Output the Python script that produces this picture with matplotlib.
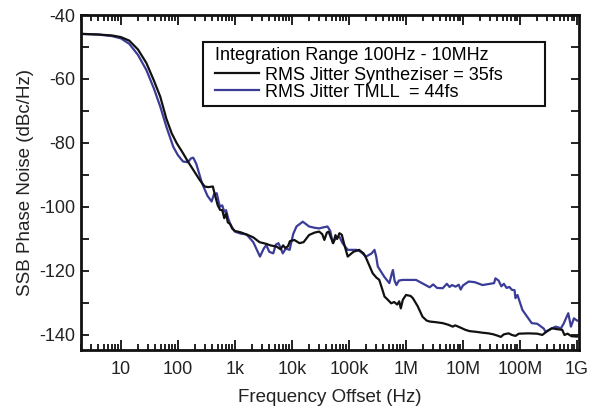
import matplotlib
matplotlib.use("Agg")
import matplotlib.pyplot as plt
from matplotlib import font_manager
from matplotlib.patches import Rectangle
from matplotlib.ticker import LogLocator, FixedLocator, NullFormatter, FixedFormatter
import numpy as np

names = {f.name for f in font_manager.fontManager.ttflist}
fam = ['Liberation Sans Narrow'] if 'Liberation Sans Narrow' in names else ['Liberation Sans']
plt.rcParams['font.family'] = fam + ['DejaVu Sans']

# Synthesizer (black)
synth_f = [2, 4, 7, 10, 14, 20, 28, 38, 49, 63, 78, 95, 123, 150, 186, 240, 295, 340, 410, 450, 500,
           550, 600, 650, 700, 750, 820, 900, 1000, 1250, 1600, 2100, 2700, 3500, 4200, 5400, 6300,
           7000, 7600, 8500, 9200, 11000, 13500, 16000, 20000, 25000, 30000, 34000, 37000, 41000,
           44000, 48000, 53000, 58000, 62000, 68000, 75000, 82000, 95000, 120000, 150000, 180000,
           200000, 230000, 260000, 300000, 340000, 380000, 420000, 480000, 550000, 620000, 700000,
           760000, 810000, 880000, 1.0e6, 1.2e6, 1.32e6, 1.6e6, 1.95e6, 2.3e6, 2.6e6, 3.3e6, 4.4e6,
           5.5e6, 6.6e6, 7.3e6, 8.5e6, 1.1e7, 1.3e7, 1.66e7, 2.2e7, 2.8e7, 3.4e7, 4.0e7, 4.6e7, 5.2e7,
           6.3e7, 7.2e7, 8.3e7, 9.5e7, 1.4e8, 2.0e8, 2.45e8, 2.9e8, 3.6e8, 4.5e8, 5.5e8, 6.0e8, 6.8e8,
           8.0e8, 1.0e9]
synth_db = [-45.9, -46.1, -46.4, -46.9, -48.0, -50.8, -55.0, -60.5, -65.5, -72.5, -77.0, -80.0, -83.2,
            -85.8, -88.4, -91.5, -93.6, -93.8, -93.6, -96.5, -99.5, -100.9, -101.0, -103.5, -102.0,
            -104.8, -105.3, -106.8, -107.5, -107.9, -108.6, -109.5, -111.0, -111.5, -112.0, -112.4,
            -113.2, -112.0, -112.8, -112.3, -110.7, -110.3, -111.3, -111.0, -108.75, -108.0, -107.7,
            -108.5, -110.3, -108.0, -107.7, -109.5, -111.3, -108.8, -110.0, -108.2, -108.7, -111.5,
            -115.5, -114.0, -113.4, -114.5, -116.0, -118.5, -120.7, -122.0, -122.8, -125.5, -128.0,
            -129.0, -130.1, -129.7, -130.5, -129.5, -131.7, -129.0, -127.5, -127.8, -128.5, -131.0,
            -134.3, -135.5, -135.8, -136.0, -136.3, -136.8, -137.4, -137.0, -137.5, -138.4, -138.8,
            -139.0, -139.3, -139.5, -139.8, -140.2, -140.6, -139.8, -139.5, -140.0, -140.3, -139.6,
            -139.5, -139.6, -140.0, -139.0, -137.9, -138.2, -138.4, -140.0, -139.6, -140.4, -140.5]

# TMLL (blue)
tmll_f = [2, 4, 7, 10, 14, 20, 28, 38, 49, 63, 83, 100, 123, 150, 170, 186, 210, 265, 330, 390, 430,
          480, 520, 550, 600, 650, 700, 760, 820, 900, 1000, 1250, 1600, 2100, 2750, 3200, 3550, 4000,
          4700, 5200, 5800, 6400, 6900, 7800, 9100, 10500, 12000, 15500, 20000, 25000, 30000, 35000,
          42000, 47000, 52000, 60000, 68000, 77000, 95000, 135000, 160000, 200000, 250000, 280000,
          300000, 320000, 415000, 510000, 560000, 590000, 630000, 680000, 750000, 870000, 1.15e6,
          1.5e6, 2.0e6, 2.6e6, 3.0e6, 3.5e6, 4.4e6, 5.2e6, 5.8e6, 6.4e6, 7.4e6, 8.4e6, 9.1e6, 1.0e7,
          1.26e7, 1.6e7, 2.2e7, 3.0e7, 3.5e7, 3.7e7, 4.2e7, 4.7e7, 5.2e7, 5.8e7, 6.5e7, 7.2e7, 8.0e7,
          8.3e7, 9.0e7, 1.1e8, 1.6e8, 2.0e8, 2.15e8, 2.6e8, 2.8e8, 3.4e8, 4.2e8, 5.2e8, 5.8e8, 7.0e8,
          7.8e8, 8.8e8, 1.0e9]
tmll_db = [-45.9, -46.1, -46.6, -47.3, -49.0, -52.5, -57.2, -63.0, -68.6, -75.0, -81.2, -83.8, -85.8,
           -86.0, -84.8, -84.6, -86.5, -92.6, -96.5, -98.3, -96.0, -95.7, -98.5, -99.9, -99.5, -101.5,
           -101.0, -103.5, -105.1, -106.5, -107.7, -108.3, -108.6, -111.0, -115.5, -113.0, -111.9,
           -114.0, -114.5, -111.8, -111.3, -113.0, -114.5, -113.0, -113.4, -108.5, -106.1, -104.6,
           -106.1, -106.5, -106.7, -106.4, -106.1, -107.5, -111.3, -109.5, -109.3, -111.3, -113.4,
           -113.4, -114.0, -115.5, -114.5, -113.4, -115.5, -118.6, -121.8, -123.8, -121.0, -119.7,
           -123.0, -124.4, -123.0, -122.8, -122.8, -122.8, -124.0, -125.1, -124.2, -125.3, -125.4,
           -124.0, -125.0, -124.4, -124.9, -124.3, -125.8, -124.5, -123.3, -123.5, -124.4, -124.0,
           -123.8, -122.3, -123.0, -124.8, -124.0, -125.3, -125.0, -125.9, -126.0, -128.5, -127.5,
           -132.2, -136.3, -136.5, -136.9, -138.0, -139.0, -138.2, -137.4, -137.9, -136.5, -133.2,
           -137.4, -134.8, -135.5]

xtick_vals = [10, 100, 1e3, 1e4, 1e5, 1e6, 1e7, 1e8, 1e9]
xtick_labels = ['10', '100', '1k', '10k', '100k', '1M', '10M', '100M', '1G']
ytick_vals = [-140, -120, -100, -80, -60, -40]
ytick_labels = ['-140', '-120', '-100', '-80', '-60', '-40']

legend_title = 'Integration Range 100Hz - 10MHz'
label_synth = 'RMS Jitter Syntheziser = 35fs'
label_tmll = 'RMS Jitter TMLL  = 44fs'

W, H = 592, 411
fig = plt.figure(figsize=(W / 100, H / 100), dpi=100)
ax = fig.add_axes([81/W, 1-350/H, (579-81)/W, (350-15)/H])

ax.plot(synth_f, synth_db, color='#111111', lw=1.6, label=label_synth, zorder=3)
ax.plot(tmll_f, tmll_db, color='#3a3c98', lw=1.6, label=label_tmll, zorder=2)

ax.set_xscale('log')
ax.set_xlim(2, 1.08e9)
ax.set_ylim(-144.7, -40)

ax.xaxis.set_major_locator(FixedLocator(xtick_vals))
ax.xaxis.set_major_formatter(FixedFormatter(xtick_labels))
ax.xaxis.set_minor_locator(LogLocator(base=10, subs=np.arange(2, 10), numticks=20))
ax.xaxis.set_minor_formatter(NullFormatter())
ax.yaxis.set_major_locator(FixedLocator(ytick_vals))
ax.yaxis.set_major_formatter(FixedFormatter(ytick_labels))
ax.yaxis.set_minor_locator(FixedLocator([-130, -110, -90, -70, -50]))

ax.tick_params(which='both', direction='in', top=True, right=True, width=1.3, colors='#111111',
               labelsize=13, labelcolor='#222222')
ax.tick_params(axis='x', which='major', length=7, pad=8)
ax.tick_params(axis='x', which='minor', length=4)
ax.tick_params(axis='y', which='major', length=6, pad=4)
ax.tick_params(axis='y', which='minor', length=6)
for s in ax.spines.values():
    s.set_linewidth(2)
    s.set_color('#111111')

ax.set_xlabel('Frequency Offset (Hz)', fontsize=13.5, color='#222222', labelpad=8)
ax.set_ylabel('SSB Phase Noise (dBc/Hz)', fontsize=13.5, color='#222222', labelpad=4)

# legend box drawn as a plain rectangle, entries without frame inside it
def px2ax(x, y):
    return ((x - 81) / (579 - 81), (350 - y) / (350 - 15))

bx0, by0 = px2ax(203, 106)
bx1, by1 = px2ax(545, 42)
ax.add_patch(Rectangle((bx0, by0), bx1 - bx0, by1 - by0, transform=ax.transAxes,
                       facecolor='white', edgecolor='#111111', lw=1.5, zorder=5))
lx, ly = px2ax(215, 47)
leg = ax.legend(title=legend_title, loc='upper left', bbox_to_anchor=(lx, ly),
                frameon=False, fontsize=13, title_fontsize=13, handlelength=2.45,
                handletextpad=0.3, labelspacing=0.0, borderpad=0, borderaxespad=0,
                alignment='left')
leg.set_zorder(6)
leg._legend_box.sep = 2

fig.savefig('out.png', dpi=100)
